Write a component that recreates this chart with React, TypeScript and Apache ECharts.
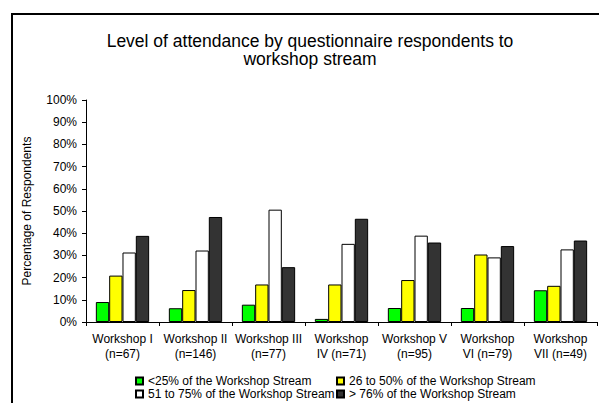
import React, { useEffect, useRef } from "react";
import * as echarts from "echarts";

const titleText = "Level of attendance by questionnaire respondents to\nworkshop stream";
const categories = [
  "Workshop I\n(n=67)",
  "Workshop II\n(n=146)",
  "Workshop III\n(n=77)",
  "Workshop\nIV (n=71)",
  "Workshop V\n(n=95)",
  "Workshop\nVI (n=79)",
  "Workshop\nVII (n=49)",
];
const seriesNames = [
  "<25% of the Workshop Stream",
  "26 to 50% of the Workshop Stream",
  "51 to 75% of the Workshop Stream",
  "> 76% of the Workshop Stream",
];
const under25 = [9.0, 6.2, 7.8, 1.4, 6.3, 6.3, 14.3];
const from26to50 = [20.9, 14.4, 16.9, 16.9, 18.9, 30.4, 16.3];
const from51to75 = [31.3, 32.2, 50.6, 35.2, 38.9, 29.1, 32.7];
const over76 = [38.8, 47.3, 24.7, 46.5, 35.8, 34.2, 36.7];
const seriesColors = ["#00FF00", "#FFFF00", "#FFFFFF", "#333333"];
const yAxisName = "Percentage of Respondents";

const FONT = "'Liberation Sans', Arial, sans-serif";

export default function App() {
  const ref = useRef<HTMLDivElement>(null);
  useEffect(() => {
    if (!ref.current) return;
    const chart = echarts.init(ref.current, undefined, { renderer: "svg" });
    const data = [under25, from26to50, from51to75, over76];
    const legendText = { fontFamily: FONT, fontSize: 12, color: "#000", lineHeight: 12 };
    chart.setOption({
      animation: false,
      backgroundColor: "#fff",
      textStyle: { fontFamily: FONT },
      title: {
        text: titleText,
        left: 310,
        top: 32,
        padding: 0,
        textAlign: "center",
        textStyle: {
          fontFamily: FONT,
          fontSize: 17.5,
          fontWeight: "normal",
          color: "#000",
          lineHeight: 18,
        },
      },
      legend: [
        {
          orient: "vertical",
          left: 135,
          top: 375,
          padding: 0,
          itemGap: 1,
          itemWidth: 7,
          itemHeight: 7,
          icon: "rect",
          textStyle: legendText,
          data: [seriesNames[0], seriesNames[2]],
        },
        {
          orient: "vertical",
          left: 336,
          top: 375,
          padding: 0,
          itemGap: 1,
          itemWidth: 7,
          itemHeight: 7,
          icon: "rect",
          textStyle: legendText,
          data: [seriesNames[1], seriesNames[3]],
        },
      ],
      grid: { left: 86, right: 2, top: 100, bottom: 81, containLabel: false },
      xAxis: {
        type: "category",
        data: categories,
        axisLine: { lineStyle: { color: "#000", width: 1 } },
        axisTick: { show: true, length: 4, alignWithLabel: false, lineStyle: { color: "#000" } },
        axisLabel: {
          interval: 0,
          margin: 10,
          fontFamily: FONT,
          fontSize: 12,
          color: "#000",
          lineHeight: 14.5,
        },
      },
      yAxis: {
        type: "value",
        min: 0,
        max: 100,
        interval: 10,
        name: yAxisName,
        nameLocation: "middle",
        nameRotate: 90,
        nameGap: 53,
        nameTextStyle: { fontFamily: FONT, fontSize: 12, color: "#000" },
        axisLine: { show: true, lineStyle: { color: "#000", width: 1 } },
        axisTick: { show: true, length: 4, inside: false, lineStyle: { color: "#000" } },
        splitLine: { show: false },
        axisLabel: {
          formatter: "{value}%",
          margin: 9,
          fontFamily: FONT,
          fontSize: 12,
          color: "#000",
        },
      },
      series: seriesNames.map((name, i) => ({
        name,
        type: "bar",
        data: data[i],
        barGap: "0%",
        barCategoryGap: "27%",
        itemStyle: { color: seriesColors[i], borderColor: "#000", borderWidth: 1 },
      })),
      graphic: [
        {
          type: "polyline",
          shape: { points: [[12, 403], [12, 14], [599, 14]] },
          style: { stroke: "#000", lineWidth: 2, fill: "none" },
          silent: true,
        },
      ],
    });
    return () => chart.dispose();
  }, []);
  return (
    <div
      ref={ref}
      style={{ position: "absolute", left: 0, top: 0, width: 599, height: 403 }}
    />
  );
}
